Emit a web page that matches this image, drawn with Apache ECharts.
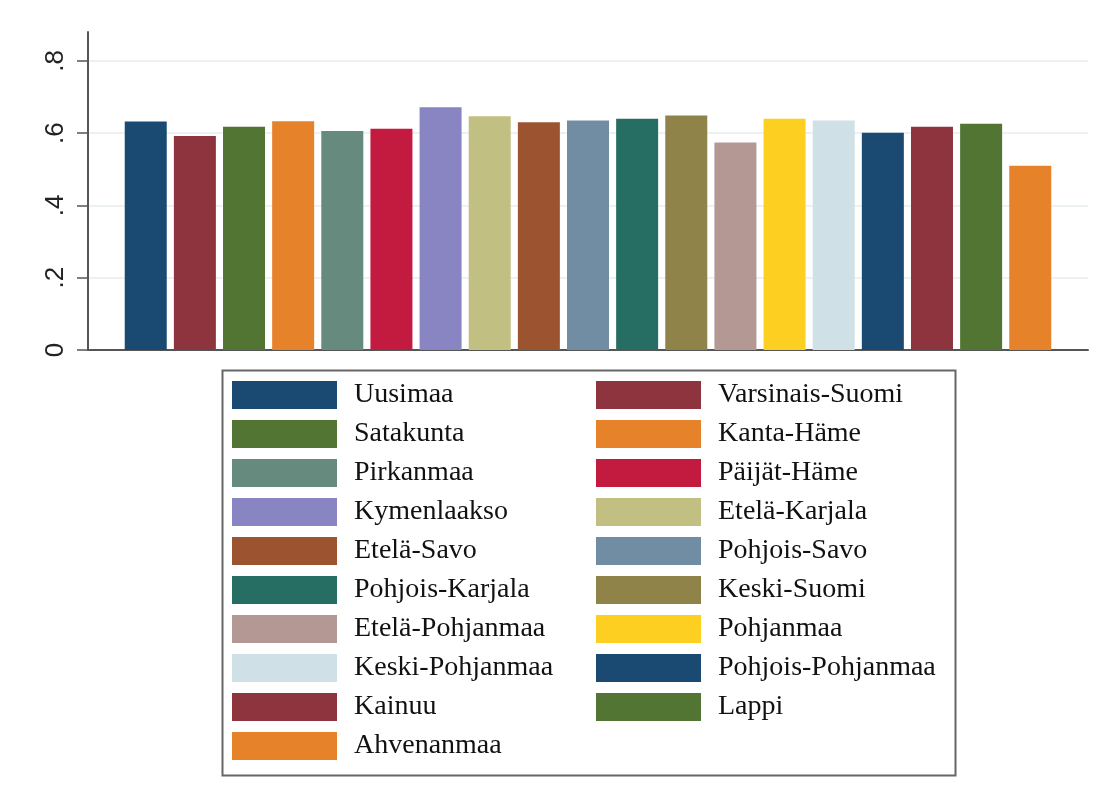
<!DOCTYPE html>
<html>
<head>
<meta charset="utf-8">
<script src="https://cdn.jsdelivr.net/npm/echarts@6/dist/echarts.min.js"></script>
<style>
  html, body { margin: 0; padding: 0; background: #fff; }
  #chart { width: 1108px; height: 805px; }
</style>
</head>
<body>
<div id="chart"></div>
<script>
// regions in plotting order
const regions = [
  'Uusimaa', 'Varsinais-Suomi', 'Satakunta', 'Kanta-Häme', 'Pirkanmaa',
  'Päijät-Häme', 'Kymenlaakso', 'Etelä-Karjala', 'Etelä-Savo', 'Pohjois-Savo',
  'Pohjois-Karjala', 'Keski-Suomi', 'Etelä-Pohjanmaa', 'Pohjanmaa',
  'Keski-Pohjanmaa', 'Pohjois-Pohjanmaa', 'Kainuu', 'Lappi', 'Ahvenanmaa'
];
const values = [
  0.632, 0.592, 0.618, 0.633, 0.606,
  0.612, 0.672, 0.647, 0.630, 0.635,
  0.640, 0.649, 0.574, 0.640,
  0.635, 0.601, 0.618, 0.626, 0.510
];
const colors = [
  '#1a4a72', '#8e343e', '#527534', '#e6822a', '#668a7e',
  '#c21b3f', '#8985c2', '#c2bf82', '#9c5330', '#718da3',
  '#266e64', '#8f834a', '#b39893', '#fccf20', '#cfe0e6',
  '#1a4a72', '#8e343e', '#527534', '#e6822a'
];
const yTicks = [0, 0.2, 0.4, 0.6, 0.8];

const chart = echarts.init(document.getElementById('chart'));

const series = regions.map(function (name, i) {
  return {
    name: name,
    type: 'bar',
    data: [values[i]],
    barWidth: 42,
    barGap: '17%',
    itemStyle: { color: colors[i] }
  };
});

const legendCommon = {
  orient: 'vertical',
  icon: 'rect',
  itemWidth: 105,
  itemHeight: 28,
  itemGap: 11,
  selectedMode: false,
  textStyle: {
    fontFamily: 'Liberation Serif',
    fontSize: 28,
    color: '#111',
    padding: [0, 0, 0, 12]
  }
};

const gridColor = '#e6eef1';

chart.setOption({
  backgroundColor: '#fff',
  animation: false,
  grid: { left: 88, right: 20, top: 32, bottom: 455 },
  xAxis: {
    type: 'category',
    data: [''],
    axisLine: { lineStyle: { color: '#555', width: 2 } },
    axisTick: { show: false },
    axisLabel: { show: false }
  },
  yAxis: {
    type: 'value',
    min: 0,
    max: 0.88,
    interval: 0.2,
    axisLine: { show: true, lineStyle: { color: '#555', width: 2 } },
    axisTick: { show: true, length: 11, customValues: yTicks, lineStyle: { color: '#555', width: 1.5 } },
    axisLabel: {
      customValues: yTicks,
      rotate: 90,
      margin: 19,
      fontFamily: 'Liberation Sans',
      fontSize: 26,
      color: '#222',
      formatter: function (v) {
        return v === 0 ? '0' : String(+v.toFixed(1)).replace(/^0\./, '.');
      }
    },
    splitLine: {
      show: true,
      lineStyle: {
        color: ['rgba(0,0,0,0)', gridColor, gridColor, gridColor, gridColor, 'rgba(0,0,0,0)'],
        width: 1.5
      }
    }
  },
  legend: [
    Object.assign({}, legendCommon, {
      left: 227, top: 376,
      data: regions.filter(function (_, i) { return i % 2 === 0; })
    }),
    Object.assign({}, legendCommon, {
      left: 591, top: 376,
      data: regions.filter(function (_, i) { return i % 2 === 1; })
    })
  ],
  graphic: [{
    type: 'rect',
    left: 220, top: 368,
    shape: { width: 733, height: 405 },
    style: { fill: 'none', stroke: '#666', lineWidth: 2 }
  }],
  series: series
});
</script>
</body>
</html>
